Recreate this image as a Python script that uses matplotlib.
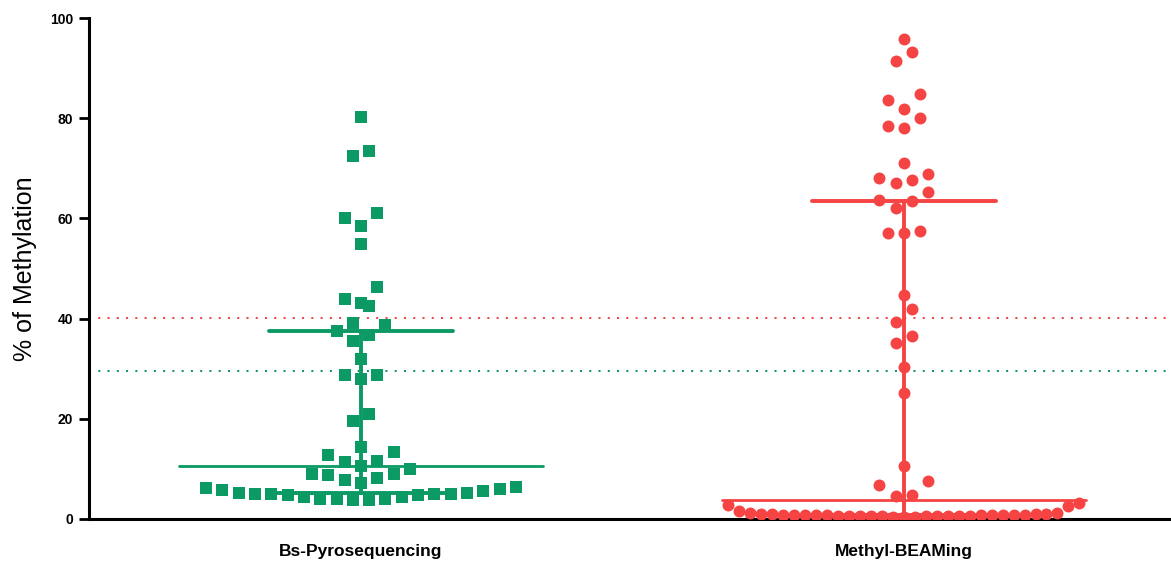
import numpy as np
import matplotlib
matplotlib.use("Agg")
import matplotlib.pyplot as plt

plt.rcParams['font.family'] = ['Liberation Sans', 'DejaVu Sans']

groups = ["Bs-Pyrosequencing", "Methyl-BEAMing"]

pyro = [3.7, 3.7, 3.9, 3.9, 4.0, 4.3, 4.4, 4.7, 4.7, 4.9, 5.0, 5.0, 5.0, 5.1,
        5.2, 5.5, 5.7, 6.0, 6.2, 6.4,
        7.2, 7.8, 8.2, 8.8, 8.9, 9.0, 10.0,
        10.6, 11.4, 11.6, 12.7, 13.4,
        14.4, 19.6, 21.0, 27.9, 28.7, 28.7, 31.9,
        35.6, 36.7, 37.6, 38.7, 39.2, 42.5, 43.2, 44.0, 46.3,
        54.9, 58.5, 60.1, 61.1, 72.5, 73.5, 80.3]

beaming = [0.3, 0.4, 0.4, 0.5, 0.5, 0.5, 0.5, 0.6, 0.6, 0.6, 0.6, 0.6, 0.6,
           0.7, 0.7, 0.7, 0.7, 0.7, 0.7, 0.8, 0.8, 0.8, 0.8, 0.9, 0.9, 1.0,
           1.0, 1.1, 1.2, 1.5, 2.5, 2.8, 3.1,
           4.5, 4.7, 7.6, 6.8, 10.6, 25.1, 30.3, 35.1, 36.6, 39.3, 42.0, 44.7,
           57.0, 57.0, 57.5, 62.0, 63.5, 63.6, 65.2, 67.0, 67.7, 68.1, 68.8,
           71.0, 78.0, 78.4, 80.0, 81.8, 83.6, 84.8, 91.4, 93.3, 95.9]

# cut-off lines
cutoff_beaming = 40.1
cutoff_pyro = 29.5

green = '#0B9A63'
red = '#F64343'

W, H = 1171, 565
fig = plt.figure(figsize=(W / 100, H / 100), dpi=100)
ax_left, ax_bottom = 89 / W, 1 - 519 / H
ax_w, ax_h = 1 - ax_left, (519 - 18) / H
ax = fig.add_axes([ax_left, ax_bottom, ax_w, ax_h])

xlim = (0.499, 2.492)
ylim = (0, 100)
px_per_x = W * ax_w / (xlim[1] - xlim[0])


def swarm(vals, row_h=3.4, step=16.3, max_span=351):
    # prism-like layout: bin into rows, spread each row from the centre out
    vals = np.sort(np.asarray(vals, float))
    ys, offs = [], []
    i = 0
    while i < len(vals):
        j = i
        while j < len(vals) and vals[j] < vals[i] + row_h:
            j += 1
        row = vals[i:j]
        n = len(row)
        s = step if n < 2 else min(step, max_span / (n - 1))
        if n % 2:
            slots = [0] + [k * sgn for k in range(1, n // 2 + 1) for sgn in (-1, 1)]
        else:
            slots = [(k + 0.5) * sgn for k in range(n // 2) for sgn in (-1, 1)]
        for v, sl in zip(row, slots):
            ys.append(v)
            offs.append(sl * s / px_per_x)
        i = j
    return np.array(offs), np.array(ys)


for pos, vals, col, mk in [(1, pyro, green, 's'), (2, beaming, red, 'o')]:
    q1, med, q3 = np.percentile(vals, [25, 50, 75], method='weibull')
    ax.plot([pos - 0.335, pos + 0.335], [med, med], color=col, lw=2.0,
            solid_capstyle='round', zorder=2)
    ax.plot([pos - 0.169, pos + 0.169], [q3, q3], color=col, lw=2.8,
            solid_capstyle='round', zorder=2)
    ax.plot([pos - 0.169, pos + 0.169], [q1, q1], color=col, lw=2.8,
            solid_capstyle='round', zorder=2)
    ax.plot([pos, pos], [q1, q3], color=col, lw=2.8, zorder=2)
    dx, ys = swarm(vals)
    ax.scatter(pos + dx, ys, s=8.6 ** 2, marker=mk, color=col, lw=0, zorder=3)

ax.axhline(cutoff_beaming, color=red, lw=1.45, linestyle=(0, (1, 3.6)), zorder=1)
ax.axhline(cutoff_pyro, color=green, lw=1.45, linestyle=(0, (1, 3.6)), zorder=1)

ax.set_xlim(*xlim)
ax.set_ylim(*ylim)
ax.set_yticks([0, 20, 40, 60, 80, 100])
ax.set_xticks([1, 2])
ax.set_xticklabels(groups, fontsize=12.5, fontweight='bold')
ax.tick_params(axis='x', length=0, pad=18)
ax.tick_params(axis='y', length=7.5, width=2, pad=4, labelsize=10)
for lab in ax.get_yticklabels():
    lab.set_fontweight('bold')
ax.set_ylabel('% of Methylation', fontsize=18, labelpad=9)

for side in ['top', 'right']:
    ax.spines[side].set_visible(False)
for side in ['left', 'bottom']:
    ax.spines[side].set_linewidth(2.2)

plt.savefig('out.png', dpi=100)
